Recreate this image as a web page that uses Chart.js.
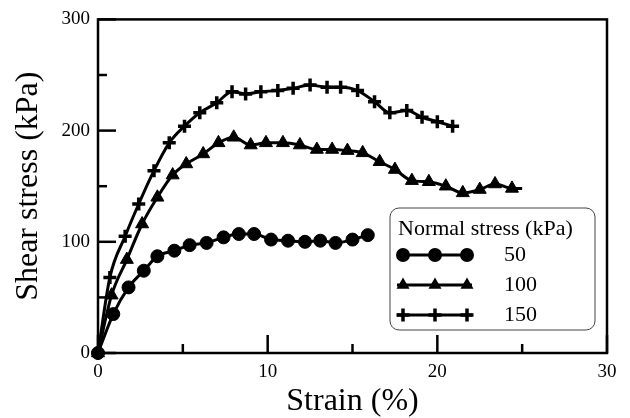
<!DOCTYPE html>
<html lang="en">
<head>
    <meta charset="UTF-8">
    <title>Shear stress vs strain</title>
    <style>
        body {
            margin: 0;
            padding: 0;
            background-color: #fff;
        }
        #chart {
            display: block;
        }
    </style>
</head>
<body>
    <canvas id="chart" width="630" height="418"></canvas>
    <script src="https://cdn.jsdelivr.net/npm/chart.js"></script>
    <script>
        // values
        const strain50 = [0, 0.9, 1.8, 2.7, 3.5, 4.5, 5.4, 6.4, 7.4, 8.3, 9.2, 10.2, 11.2, 12.2, 13.1, 14.0, 15.0, 15.9];
        const stress50 = [0, 35, 59, 74, 87, 92, 97, 99, 104, 107, 107, 102, 101, 100, 101, 99, 102, 106];

        const strain100 = [0, 0.8, 1.7, 2.6, 3.5, 4.4, 5.2, 6.2, 7.1, 8.0, 9.0, 9.9, 10.9, 11.9, 12.9, 13.8, 14.7, 15.6, 16.6, 17.5, 18.5, 19.5, 20.5, 21.5, 22.5, 23.4, 24.4, 25.0];
        const stress100 = [0, 52, 84, 116, 140, 160, 170, 179, 189, 194, 187, 189, 189, 187, 183, 183, 182, 180, 172, 165, 155, 154, 150, 144, 147, 152, 148, 148];

        const strain150 = [0, 0.7, 1.6, 2.4, 3.3, 4.2, 5.1, 6.0, 7.0, 7.9, 8.7, 9.6, 10.6, 11.5, 12.5, 13.5, 14.3, 15.3, 16.3, 17.2, 18.2, 19.1, 20.0, 20.9];
        const stress150 = [0, 68, 105, 134, 164, 189, 204, 216, 225, 235, 233, 235, 236, 238, 241, 239, 239, 236, 226, 216, 218, 212, 208, 204];

        const seriesLabels = ['50', '100', '150'];
        const legendTitle = 'Normal stress (kPa)';

        const xMajorTicks = [0, 10, 20, 30];
        const xMinorTicks = [5, 15, 25];
        const yMajorTicks = [0, 100, 200, 300];
        const yMinorTicks = [50, 150, 250];

        const serif = "'Liberation Serif', 'DejaVu Serif', serif";

        function toPoints(xs, ys) {
            return xs.map((v, i) => ({ x: v, y: ys[i] }));
        }

        // frame around the plot and inward ticks
        const frameTicks = {
            id: 'frameTicks',
            beforeDatasetsDraw(chart) {
                const { ctx, chartArea: a, scales: { x, y } } = chart;
                ctx.save();
                ctx.strokeStyle = '#000';
                ctx.lineWidth = 2.5;
                ctx.strokeRect(a.left, a.top, a.right - a.left, a.bottom - a.top);
                const tick = (x1, y1, x2, y2) => {
                    ctx.beginPath();
                    ctx.moveTo(x1, y1);
                    ctx.lineTo(x2, y2);
                    ctx.stroke();
                };
                xMajorTicks.forEach(v => { const p = x.getPixelForValue(v); tick(p, a.bottom, p, a.bottom - 18); });
                xMinorTicks.forEach(v => { const p = x.getPixelForValue(v); tick(p, a.bottom, p, a.bottom - 9); });
                yMajorTicks.forEach(v => { const p = y.getPixelForValue(v); tick(a.left, p, a.left + 18, p); });
                yMinorTicks.forEach(v => { const p = y.getPixelForValue(v); tick(a.left, p, a.left + 9, p); });
                ctx.restore();
            }
        };

        function drawMarker(ctx, style, cx, cy) {
            ctx.beginPath();
            if (style === 'circle') {
                ctx.arc(cx, cy, 7, 0, Math.PI * 2);
                ctx.fill();
            } else if (style === 'triangle') {
                const r = 7.5;
                ctx.moveTo(cx, cy - r);
                ctx.lineTo(cx + r * 0.866, cy + r * 0.5);
                ctx.lineTo(cx - r * 0.866, cy + r * 0.5);
                ctx.closePath();
                ctx.fill();
            } else {
                ctx.lineWidth = 3.5;
                ctx.moveTo(cx - 6.5, cy);
                ctx.lineTo(cx + 6.5, cy);
                ctx.moveTo(cx, cy - 6.5);
                ctx.lineTo(cx, cy + 6.5);
                ctx.stroke();
            }
        }

        const boxLegend = {
            id: 'boxLegend',
            afterDraw(chart) {
                const { ctx, chartArea: a } = chart;
                const bx = a.right - 217, by = a.bottom - 145, bw = 205, bh = 122;
                ctx.save();
                ctx.fillStyle = '#fff';
                ctx.strokeStyle = '#444';
                ctx.lineWidth = 1;
                ctx.beginPath();
                ctx.roundRect(bx, by, bw, bh, 9);
                ctx.fill();
                ctx.stroke();

                ctx.fillStyle = '#000';
                ctx.font = '22px ' + serif;
                ctx.textBaseline = 'middle';
                ctx.textAlign = 'left';
                ctx.fillText(legendTitle, bx + 8, by + 21);

                const rows = [by + 47, by + 77, by + 107];
                chart.data.datasets.forEach((ds, i) => {
                    const ry = rows[i];
                    ctx.strokeStyle = '#000';
                    ctx.fillStyle = '#000';
                    ctx.lineWidth = 3;
                    ctx.beginPath();
                    ctx.moveTo(bx + 7, ry);
                    ctx.lineTo(bx + 82, ry);
                    ctx.stroke();
                    [bx + 13, bx + 45, bx + 77].forEach(mx => drawMarker(ctx, ds.pointStyle, mx, ry));
                    ctx.fillText(ds.label, bx + 114, ry);
                });
                ctx.restore();
            }
        };

        const common = {
            showLine: true,
            borderColor: '#000',
            backgroundColor: '#000',
            pointBackgroundColor: '#000',
            pointBorderColor: '#000',
            borderWidth: 3,
            cubicInterpolationMode: 'monotone',
            clip: false
        };

        new Chart(document.getElementById('chart'), {
            type: 'scatter',
            data: {
                datasets: [
                    Object.assign({}, common, {
                        label: seriesLabels[0],
                        data: toPoints(strain50, stress50),
                        pointStyle: 'circle',
                        pointRadius: 6.5,
                        pointBorderWidth: 1
                    }),
                    Object.assign({}, common, {
                        label: seriesLabels[1],
                        data: toPoints(strain100, stress100),
                        pointStyle: 'triangle',
                        pointRadius: c => c.dataIndex === strain100.length - 1 ? 0 : 7.5,
                        pointBorderWidth: 1
                    }),
                    Object.assign({}, common, {
                        label: seriesLabels[2],
                        data: toPoints(strain150, stress150),
                        pointStyle: 'cross',
                        pointRadius: 6.5,
                        pointBorderWidth: 3.5
                    })
                ]
            },
            options: {
                responsive: false,
                animation: false,
                devicePixelRatio: 1,
                layout: { padding: { left: 0, right: 23, top: 17, bottom: 0 } },
                plugins: {
                    legend: { display: false },
                    tooltip: { enabled: false }
                },
                scales: {
                    x: {
                        type: 'linear',
                        min: 0,
                        max: 30,
                        afterFit(scale) { scale.height = 65; },
                        afterBuildTicks(scale) { scale.ticks = xMajorTicks.map(v => ({ value: v })); },
                        grid: { display: false, drawTicks: false },
                        border: { display: false },
                        ticks: {
                            color: '#000',
                            padding: 8,
                            maxRotation: 0,
                            font: { family: serif, size: 19 }
                        },
                        title: {
                            display: true,
                            text: 'Strain (%)',
                            color: '#000',
                            padding: { top: 0, bottom: 0 },
                            font: { family: serif, size: 32, lineHeight: 1 }
                        }
                    },
                    y: {
                        type: 'linear',
                        min: 0,
                        max: 300,
                        afterFit(scale) { scale.width = 98; },
                        afterBuildTicks(scale) { scale.ticks = yMajorTicks.map(v => ({ value: v })); },
                        grid: { display: false, drawTicks: false },
                        border: { display: false },
                        ticks: {
                            color: '#000',
                            padding: 8,
                            font: { family: serif, size: 19 }
                        },
                        title: {
                            display: true,
                            text: 'Shear stress (kPa)',
                            color: '#000',
                            padding: { top: 13, bottom: 0 },
                            font: { family: serif, size: 32, lineHeight: 1 }
                        }
                    }
                }
            },
            plugins: [frameTicks, boxLegend]
        });
    </script>
</body>
</html>
